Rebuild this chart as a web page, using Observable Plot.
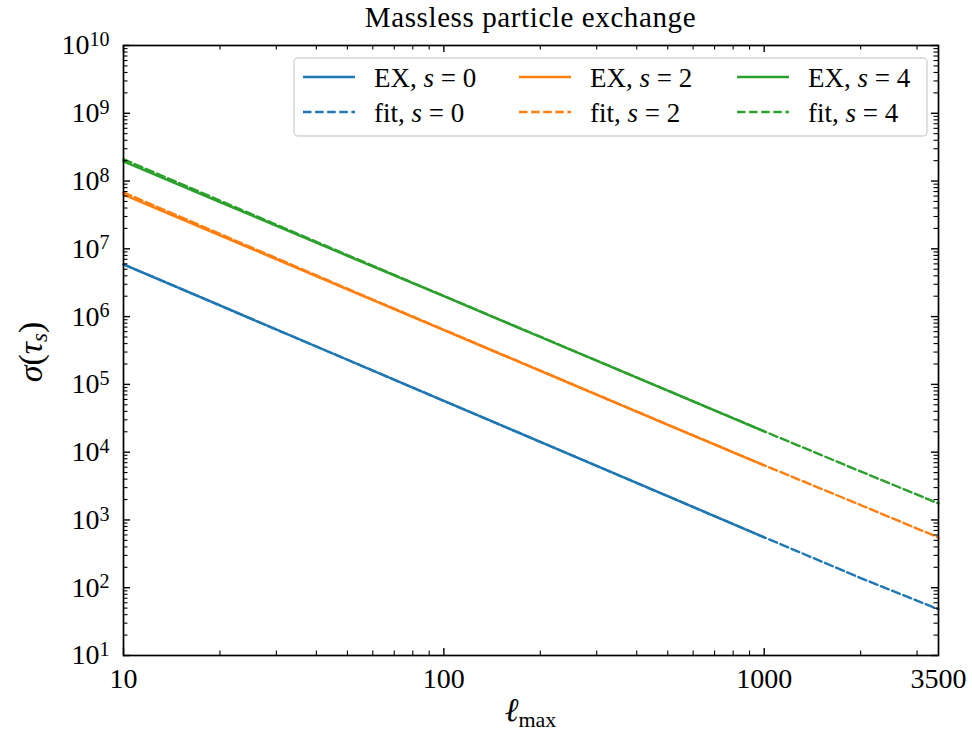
<!DOCTYPE html>
<html><head><meta charset="utf-8">
<script src="https://cdn.jsdelivr.net/npm/d3@7"></script>
<script src="https://cdn.jsdelivr.net/npm/@observablehq/plot@0.6"></script>
<style>body{margin:0;background:#fff} svg{display:block}</style>
</head><body><div id="chart"></div>
<script>
// ---- data ----
const ellEX = [10, 20, 50, 100, 200, 500, 1000];
const ex0 = [5.89e6, 1.46e6, 2.31e5, 5.71e4, 1.42e4, 2.24e3, 5.55e2];
const ex2 = [6.3e7, 1.58e7, 2.52e6, 6.3e5, 1.58e5, 2.53e4, 6.4e3];
const ex4 = [1.95e8, 4.9e7, 7.9e6, 2.0e6, 5.0e5, 8.1e4, 2.03e4];

const ellFit = [10, 20, 50, 100, 200, 500, 1000, 2000, 3500];
const fit0 = [5.89e6, 1.46e6, 2.31e5, 5.71e4, 1.42e4, 2.24e3, 5.55e2, 1.39e2, 48];
const fit2 = [6.8e7, 1.66e7, 2.58e6, 6.4e5, 1.6e5, 2.55e4, 6.4e3, 1.66e3, 550];
const fit4 = [2.1e8, 5.15e7, 8.1e6, 2.02e6, 5.05e5, 8.1e4, 2.03e4, 5.2e3, 1.75e3];

const spins = ["0", "2", "4"];
const colors = ["#1f77b4", "#ff7f0e", "#2ca02c"];
const xTickLabels = [10, 100, 1000, 3500];
const xMajor = [10, 100, 1000];
const xMinor = [20,30,40,50,60,70,80,90,200,300,400,500,600,700,800,900,2000,3000];
const yExps = [1,2,3,4,5,6,7,8,9,10];
const yMajor = yExps.map(e => Math.pow(10, e));
const yMinor = [];
for (let e = 1; e < 10; e++) for (let k = 2; k <= 9; k++) yMinor.push(k * Math.pow(10, e));

const title = "Massless particle exchange";

// ---- tables ----
const exRows = [], fitRows = [];
[ex0, ex2, ex4].forEach((arr, i) => arr.forEach((v, j) => exRows.push({l: ellEX[j], v, s: spins[i]})));
[fit0, fit2, fit4].forEach((arr, i) => arr.forEach((v, j) => fitRows.push({l: ellFit[j], v, s: spins[i]})));

const W = 972, H = 735, mL = 123, mR = 34, mT = 45, mB = 80;
const iw = W - mL - mR, ih = H - mT - mB;
const FONT = "'Liberation Serif', 'Times New Roman', serif";
const LW = 2.4, DASH = "8.5,3.6";

const plot = Plot.plot({
  width: W, height: H,
  marginLeft: mL, marginRight: mR, marginTop: mT, marginBottom: mB,
  style: {fontFamily: FONT, fontSize: "28px", background: "white", color: "black"},
  x: {type: "log", domain: [10, 3500]},
  y: {type: "log", domain: [10, 1e10]},
  color: {domain: spins, range: colors},
  marks: [
    Plot.line(exRows, {x: "l", y: "v", z: "s", stroke: "s", strokeWidth: LW}),
    Plot.line(fitRows, {x: "l", y: "v", z: "s", stroke: "s", strokeWidth: LW, strokeDasharray: DASH}),
    // inward ticks on all four sides
    Plot.tickX(xMajor, {x: d => d, insetTop: ih - 7, stroke: "black", strokeWidth: 1.4}),
    Plot.tickX(xMajor, {x: d => d, insetBottom: ih - 7, stroke: "black", strokeWidth: 1.4}),
    Plot.tickX(xMinor, {x: d => d, insetTop: ih - 4.5, stroke: "black", strokeWidth: 1.1}),
    Plot.tickX(xMinor, {x: d => d, insetBottom: ih - 4.5, stroke: "black", strokeWidth: 1.1}),
    Plot.tickY(yMajor, {y: d => d, insetRight: iw - 7, stroke: "black", strokeWidth: 1.4}),
    Plot.tickY(yMajor, {y: d => d, insetLeft: iw - 7, stroke: "black", strokeWidth: 1.4}),
    Plot.tickY(yMinor, {y: d => d, insetRight: iw - 4.5, stroke: "black", strokeWidth: 1.1}),
    Plot.tickY(yMinor, {y: d => d, insetLeft: iw - 4.5, stroke: "black", strokeWidth: 1.1}),
    Plot.axisX(xTickLabels, {anchor: "bottom", tickSize: 0, tickPadding: 13, tickFormat: d => String(d), label: null, fontSize: 28}),
    Plot.axisY(yMajor, {anchor: "left", tickSize: 0, tickPadding: 14, tickFormat: d => "10^" + Math.round(Math.log10(d)), label: null, fontSize: 28}),
    Plot.frame({stroke: "black", strokeWidth: 1.7})
  ]
});
document.getElementById("chart").appendChild(plot);

const svg = d3.select(plot);
// superscript exponents on y tick labels
svg.selectAll("text").each(function() {
  const t = this.textContent;
  if (/^10\^\d+$/.test(t)) {
    const e = t.split("^")[1];
    const sel = d3.select(this);
    sel.text("10");
    sel.append("tspan").attr("dy", "-0.42em").attr("font-size", "20px").text(e);
  }
});

// title
svg.append("text").attr("x", mL + iw / 2).attr("y", 27).attr("text-anchor", "middle")
  .attr("font-family", FONT).attr("font-size", 29).attr("letter-spacing", "0.6px").text(title);

// x label
const xl = svg.append("text").attr("x", mL + iw / 2).attr("y", 721).attr("text-anchor", "middle")
  .attr("font-family", FONT).attr("font-size", 33);
xl.append("tspan").attr("font-style", "italic").text("ℓ");
xl.append("tspan").attr("font-size", 22).attr("dy", 6).text("max");

// y label
const yl = svg.append("text").attr("transform", "translate(42,352) rotate(-90)").attr("text-anchor", "middle")
  .attr("font-family", FONT).attr("font-size", 34);
yl.append("tspan").attr("font-style", "italic").text("σ");
yl.append("tspan").text("(");
yl.append("tspan").attr("font-style", "italic").text("τ");
yl.append("tspan").attr("font-style", "italic").attr("font-size", 23).attr("dy", 5).text("s");
yl.append("tspan").attr("dy", -5).text(")");

// legend
const lg = svg.append("g");
lg.append("rect").attr("x", 294).attr("y", 58).attr("width", 633).attr("height", 78).attr("rx", 4)
  .attr("fill", "white").attr("fill-opacity", 0.8).attr("stroke", "#d3d3d3").attr("stroke-width", 1.4);
const colX = [303, 519, 737], rowY = [77, 112];
spins.forEach((s, i) => {
  [["EX", null], ["fit", DASH]].forEach(([name, dash], r) => {
    lg.append("line").attr("x1", colX[i]).attr("x2", colX[i] + 52).attr("y1", rowY[r]).attr("y2", rowY[r])
      .attr("stroke", colors[i]).attr("stroke-width", LW).attr("stroke-dasharray", dash);
    const t = lg.append("text").attr("x", colX[i] + 71).attr("y", rowY[r] + 9.5)
      .attr("text-anchor", "start").attr("font-family", FONT).attr("font-size", 27);
    t.append("tspan").text(name + ", ");
    t.append("tspan").attr("font-style", "italic").text("s");
    t.append("tspan").text(" = " + s);
  });
});
</script></body></html>
